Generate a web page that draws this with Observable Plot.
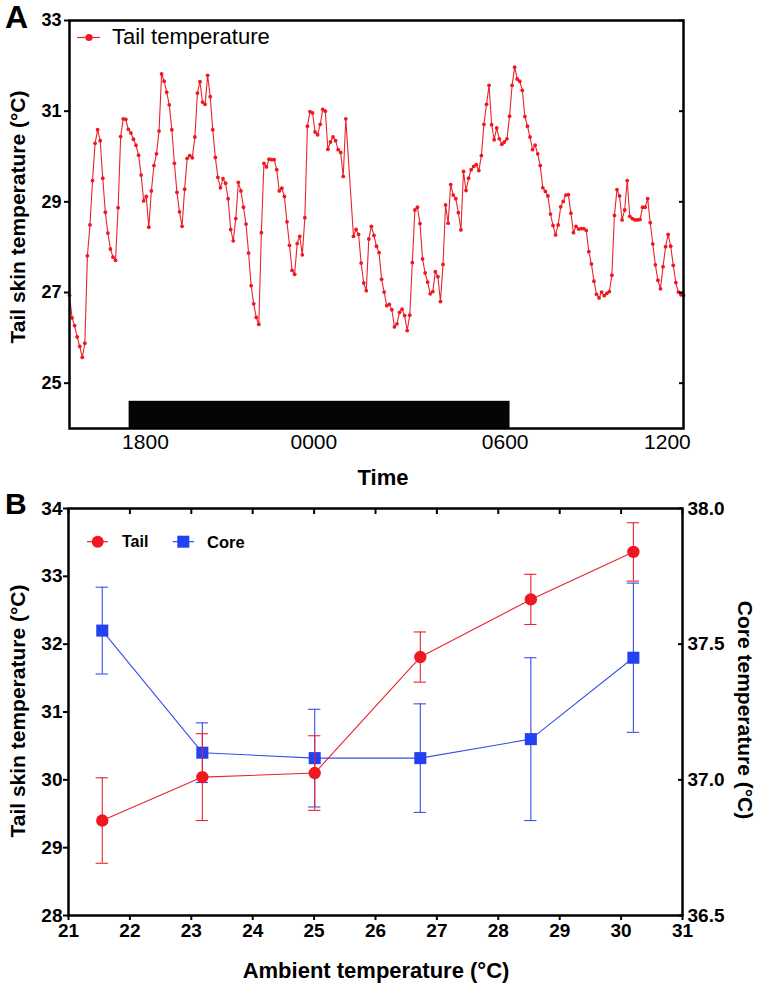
<!DOCTYPE html>
<html><head><meta charset="utf-8">
<script src="https://cdn.jsdelivr.net/npm/d3@7"></script>
<script src="https://cdn.jsdelivr.net/npm/@observablehq/plot@0.6"></script>
<style>
body{margin:0;background:#fff;font-family:"Liberation Sans",Arial,sans-serif;}
#wrap{position:relative;width:761px;height:988px;overflow:hidden;background:#fff;}
.abs{position:absolute;line-height:1;white-space:nowrap;color:#000;}
.b{font-weight:bold;}
.ctr{transform:translate(-50%,-50%);}
.rotL{transform:translate(-50%,-50%) rotate(-90deg);}
.rotR{transform:translate(-50%,-50%) rotate(90deg);}
</style></head><body><div id="wrap"></div>
<script>
// ---------- Panel A data: tail skin temperature over time (one value per sample slot; null = missing sample)
const tailTemp = [
26.94,26.44,26.27,26.02,25.81,25.57,25.88,27.81,28.49,29.47,
30.29,30.59,30.35,29.52,28.77,28.31,27.96,27.78,27.71,28.87,
30.44,30.83,30.82,30.60,30.52,30.38,30.25,30.03,29.59,29.02,
29.12,28.44,29.24,29.80,30.06,30.56,31.82,31.66,31.42,31.14,
30.59,29.85,29.21,28.78,28.46,29.28,29.96,30.02,29.97,30.43,
31.40,31.65,31.20,31.15,31.79,31.32,30.59,29.98,29.54,29.31,
29.51,29.41,29.07,28.39,28.14,28.63,29.43,29.24,28.88,28.51,
27.87,27.15,26.75,26.45,26.30,28.32,29.85,29.77,29.94,29.93,
29.93,29.71,29.24,29.30,29.12,28.56,28.04,27.49,27.40,28.08,
28.24,27.83,28.65,30.67,30.99,30.96,30.54,30.48,30.71,31.04,
31.00,30.16,30.32,30.43,30.35,30.15,30.09,29.56,30.83,null,
null,28.24,28.39,28.28,27.65,27.21,27.04,28.18,28.46,28.26,
28.02,27.88,27.29,27.01,26.71,26.74,26.62,26.24,26.31,26.56,
26.63,26.49,26.16,26.50,27.66,28.82,28.88,28.52,27.74,27.43,
27.23,26.97,27.02,27.46,27.35,26.80,27.62,28.93,28.53,29.38,
29.15,29.07,28.76,28.38,29.67,29.25,29.52,29.71,29.78,29.82,
29.69,30.02,30.71,31.15,31.57,30.70,30.37,30.63,30.39,30.27,
30.32,30.39,30.89,31.57,31.97,31.71,31.66,31.46,30.88,30.67,
30.43,30.15,30.25,30.06,29.80,29.31,29.23,29.13,28.73,28.48,
28.27,28.49,28.89,29.01,29.15,29.16,28.75,28.32,28.46,28.40,
28.41,28.41,28.37,27.90,27.63,27.25,26.96,26.88,27.01,26.93,
26.98,27.02,27.38,28.70,29.27,29.13,28.60,28.82,29.47,28.68,
28.63,28.60,28.60,28.61,28.88,28.88,29.07,28.54,28.07,27.61,
27.27,27.08,27.57,28.01,28.28,28.02,27.60,27.22,27.01,26.95,
26.93
];
const timeLabels = ["1800", "0000", "0600", "1200"];
const timeLabelSlot = [29.7, 95.5, 170.3, 233.7];   // sample slot under each label
const darkStartSlot = 23.3;
const darkEndSlot = 172.2;
const tempTicksA = [25, 27, 29, 31, 33];

// ---------- Panel B data
const ambient  = [21.55, 23.18, 25.01, 26.73, 28.53, 30.20];
const tailMean = [29.40, 30.04, 30.10, 31.81, 32.66, 33.36];
const tailSem  = [0.63, 0.64, 0.55, 0.37, 0.37, 0.43];
const coreMean = [37.55, 37.10, 37.08, 37.08, 37.15, 37.45];
const coreSem  = [0.16, 0.11, 0.18, 0.20, 0.30, 0.275];
const ambientTicks = [21, 22, 23, 24, 25, 26, 27, 28, 29, 30, 31];
const tailTicksB = [28, 29, 30, 31, 32, 33, 34];
const coreTicks = [36.5, 37.0, 37.5, 38.0];

const FONT = "Liberation Sans, Arial, Helvetica, sans-serif";
const RED = "#f01820", RED_LINE = "#e8242c", BLUE = "#2340f2", BLUE_LINE = "#3550e6";

// ---------- Panel A
const seriesA = tailTemp.map((v, i) => ({slot: i, temp: v})).filter(d => d.temp != null);
const plotA = Plot.plot({
  width: 761, height: 488,
  marginLeft: 69, marginRight: 78, marginTop: 20, marginBottom: 60,
  style: {fontFamily: FONT, fontSize: "18px", color: "#000", background: "transparent", overflow: "visible"},
  x: {domain: [0, tailTemp.length - 1], label: null},
  y: {domain: [24, 33], label: null},
  marks: [
    Plot.rect([{start: darkStartSlot, end: darkEndSlot}], {x1: "start", x2: "end", y1: () => 24, y2: () => 24.6, fill: "#050505"}),
    Plot.line(seriesA, {x: "slot", y: "temp", stroke: RED_LINE, strokeWidth: 1.1}),
    Plot.dot(seriesA, {x: "slot", y: "temp", r: 1.9, fill: RED, stroke: "none"}),
    Plot.axisY({anchor: "left", ticks: tempTicksA, tickSize: 5, tickPadding: 3, strokeWidth: 2, fontWeight: "bold", fontSize: 18,
      tickFormat: d => String(d), label: null}),
    Plot.axisY({anchor: "right", ticks: tempTicksA, tickSize: 5, dx: -5, strokeWidth: 2, tickFormat: () => "", label: null}),
    Plot.axisX({anchor: "bottom", ticks: timeLabelSlot, tickSize: 0, tickPadding: 6, fontSize: 21,
      tickFormat: d => timeLabels[timeLabelSlot.indexOf(d)], label: null}),
    Plot.frame({stroke: "#000", strokeWidth: 2.5})
  ]
});

// ---------- Panel B (core temperature drawn on the left scale via the right-axis mapping)
const toLeft = c => 28 + (c - 36.5) * 4;
const tailRows = ambient.map((a, i) => ({a, m: tailMean[i], lo: tailMean[i] - tailSem[i], hi: tailMean[i] + tailSem[i]}));
const coreRows = ambient.map((a, i) => ({a, m: toLeft(coreMean[i]), lo: toLeft(coreMean[i] - coreSem[i]), hi: toLeft(coreMean[i] + coreSem[i])}));
const cap = 0.1;
const errMarks = (rows, color) => [
  Plot.ruleX(rows, {x: "a", y1: "lo", y2: "hi", stroke: color, strokeWidth: 1.1}),
  Plot.ruleY(rows, {y: "hi", x1: d => d.a - cap, x2: d => d.a + cap, stroke: color, strokeWidth: 1.1}),
  Plot.ruleY(rows, {y: "lo", x1: d => d.a - cap, x2: d => d.a + cap, stroke: color, strokeWidth: 1.1})
];
const plotB = Plot.plot({
  width: 761, height: 500,
  marginLeft: 68, marginRight: 79, marginTop: 20, marginBottom: 73,
  style: {fontFamily: FONT, fontSize: "19px", color: "#000", background: "transparent", overflow: "visible"},
  x: {domain: [21, 31], label: null},
  y: {domain: [28, 34], label: null},
  marks: [
    ...errMarks(coreRows, BLUE_LINE),
    Plot.line(coreRows, {x: "a", y: "m", stroke: BLUE_LINE, strokeWidth: 1.1}),
    Plot.dot(coreRows, {x: "a", y: "m", symbol: "square", r: 6.8, fill: BLUE, stroke: "none"}),
    ...errMarks(tailRows, RED_LINE),
    Plot.line(tailRows, {x: "a", y: "m", stroke: RED_LINE, strokeWidth: 1.1}),
    Plot.dot(tailRows, {x: "a", y: "m", r: 6.2, fill: RED, stroke: "none"}),
    Plot.axisX({anchor: "bottom", ticks: ambientTicks, tickSize: 5, tickPadding: 3, strokeWidth: 2, fontWeight: "bold", fontSize: 19,
      tickFormat: d => String(d), label: null}),
    Plot.axisX({anchor: "top", ticks: ambientTicks, tickSize: 5, dy: 5, strokeWidth: 2, tickFormat: () => "", label: null}),
    Plot.axisY({anchor: "left", ticks: tailTicksB, tickSize: 5, tickPadding: 1, strokeWidth: 2, fontWeight: "bold", fontSize: 19,
      tickFormat: d => String(d), label: null}),
    Plot.axisY({anchor: "right", ticks: coreTicks.map(toLeft), tickSize: 5, dx: -5, strokeWidth: 2, tickFormat: () => "", label: null}),
    Plot.axisY({anchor: "right", ticks: coreTicks.map(toLeft), tickSize: 0, tickPadding: 5, fontWeight: "bold", fontSize: 19,
      tickFormat: d => ((d - 28) / 4 + 36.5).toFixed(1), label: null}),
    Plot.frame({stroke: "#000", strokeWidth: 2.5})
  ]
});

// ---------- Layout
const wrap = document.getElementById("wrap");
plotA.style.position = "absolute"; plotA.style.left = "0px"; plotA.style.top = "0px";
plotB.style.position = "absolute"; plotB.style.left = "0px"; plotB.style.top = "488px";
wrap.appendChild(plotA);
wrap.appendChild(plotB);

function txt(text, opts) {
  const d = document.createElement("div");
  d.className = "abs" + (opts.bold ? " b" : "") + (opts.cls ? " " + opts.cls : "");
  d.textContent = text;
  d.style.fontSize = opts.size + "px";
  d.style.left = opts.x + "px";
  // baseline positioning (line-height 1): top = baseline - 0.8465*size
  d.style.top = (opts.cls ? opts.y : opts.y - 0.8465 * opts.size) + "px";
  wrap.appendChild(d);
}
function svgEl(tag, attrs, parent) {
  const e = document.createElementNS("http://www.w3.org/2000/svg", tag);
  for (const k in attrs) e.setAttribute(k, attrs[k]);
  if (parent) parent.appendChild(e);
  return e;
}

// Panel letters
txt("A", {x: 5, y: 28, size: 32, bold: true});
txt("B", {x: 5, y: 514, size: 30, bold: true});

// Axis titles
txt("Tail skin temperature (°C)", {x: 17, y: 217, size: 21, bold: true, cls: "rotL"});
txt("Time", {x: 383, y: 478, size: 22, bold: true, cls: "ctr"});
txt("Tail skin temperature (°C)", {x: 17, y: 711, size: 21, bold: true, cls: "rotL"});
txt("Core temperature (°C)", {x: 745, y: 710, size: 21, bold: true, cls: "rotR"});
txt("Ambient temperature (°C)", {x: 376, y: 971, size: 22, bold: true, cls: "ctr"});

// Legends
const leg = svgEl("svg", {width: 761, height: 988, style: "position:absolute;left:0;top:0;pointer-events:none"});
wrap.appendChild(leg);
svgEl("line", {x1: 77, x2: 100, y1: 37.5, y2: 37.5, stroke: RED_LINE, "stroke-width": 1.2}, leg);
svgEl("circle", {cx: 89, cy: 37.5, r: 3.6, fill: RED}, leg);
txt("Tail temperature", {x: 112, y: 45, size: 22});

svgEl("line", {x1: 87, x2: 108, y1: 541.7, y2: 541.7, stroke: RED_LINE, "stroke-width": 1.2}, leg);
svgEl("circle", {cx: 97.7, cy: 541.7, r: 6, fill: RED}, leg);
txt("Tail", {x: 122, y: 547.5, size: 16, bold: true});
svgEl("line", {x1: 172.7, x2: 194, y1: 541.7, y2: 541.7, stroke: BLUE_LINE, "stroke-width": 1.2}, leg);
svgEl("rect", {x: 177.3, y: 535.7, width: 12, height: 12, fill: BLUE}, leg);
txt("Core", {x: 207, y: 547.5, size: 16.5, bold: true});
</script>
</body></html>
